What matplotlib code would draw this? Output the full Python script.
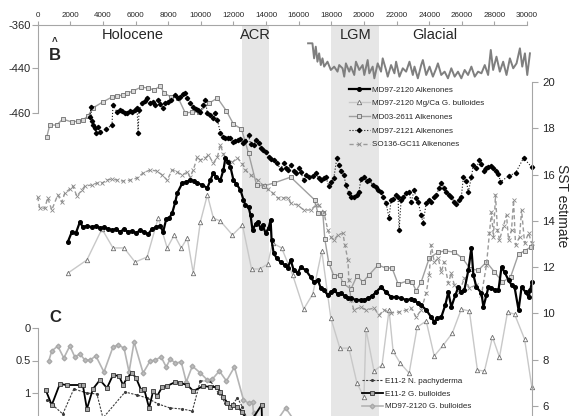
import matplotlib
matplotlib.use("Agg")
import matplotlib.pyplot as plt

plt.rcParams['font.family'] = ['Liberation Sans', 'DejaVu Sans']

# ---------------- data (age in years BP) ----------------
# EPICA-type deuterium record (top panel, left axis)
dd_age = [16575, 16841, 16944, 17046, 17149, 17251, 17354, 17456, 17559, 17764, 17969, 18174,
          18379, 18482, 18687, 18790, 18892, 19097, 19200, 19405, 19508, 19713, 19918, 20021,
          20226, 20328, 20533, 20636, 20841, 21046, 21149, 21354, 21456, 21662, 21867, 21969,
          22174, 22379, 22585, 22790, 22995, 23097, 23303, 23508, 23610, 23815, 24021, 24226,
          24431, 24533, 24738, 24944, 25149, 25354, 25559, 25764, 25969, 26174, 26379, 26585,
          26790, 26995, 27200, 27405, 27610, 27774, 27918, 28123, 28328, 28533, 28738, 28944,
          29149, 29354, 29559, 29703, 29867, 30010, 30174]
dd_val = [-380.8, -380.8, -397.9, -384.6, -401.7, -392.2, -405.5, -397.9, -407.3, -401.7, -411.1, -407.3,
          -413.0, -405.5, -409.2, -418.7, -403.6, -413.0, -407.3, -416.8, -401.7, -411.1, -405.5, -416.8,
          -399.8, -414.9, -407.3, -420.6, -403.6, -413.0, -397.9, -411.1, -418.7, -405.5, -414.9, -401.7,
          -418.7, -409.2, -413.0, -401.7, -416.8, -407.3, -420.6, -405.5, -399.8, -416.8, -407.3, -418.7,
          -409.2, -403.6, -416.8, -413.0, -420.6, -409.2, -418.7, -413.0, -420.6, -411.1, -416.8, -407.3,
          -418.7, -413.0, -414.9, -405.5, -416.8, -388.4, -411.1, -396.0, -413.0, -401.7, -416.8, -397.9,
          -409.2, -403.6, -386.5, -407.3, -392.2, -416.8, -392.2]

# MD97-2120 Alkenones
alk_age = [1846, 2092, 2339, 2585, 2769, 3015, 3323, 3569, 3815, 4062, 4308, 4554, 4800, 5046, 5292,
           5538, 5785, 6031, 6277, 6523, 6769, 7016, 7262, 7508, 7692, 7877, 8062, 8246, 8431, 8554,
           8862, 9108, 9354, 9600, 9785, 10092, 10400, 10585, 10769, 10954, 11200, 11385, 11508, 11692,
           11815, 12000, 12185, 12431, 12615, 12738, 12923, 13046, 13169, 13354, 13477, 13662, 13785,
           13969, 14154, 14277, 14338, 14462, 14646, 14892, 15138, 15323, 15508, 15692, 15938, 16123,
           16431, 16738, 16923, 17169, 17354, 17538, 17785, 17969, 18154, 18400, 18585, 18831, 19015,
           19200, 19508, 19815, 20000, 20246, 20492, 20738, 21046, 21354, 21662, 21969, 22277, 22585,
           22892, 23077, 23323, 23508, 23815, 24123, 24308, 24492, 24738, 24985, 25169, 25354, 25600,
           25785, 25969, 26154, 26400, 26585, 26708, 26892, 27200, 27323, 27508, 27631, 27815, 28062,
           28246, 28431, 28615, 28862, 29046, 29231, 29477, 29662, 29908, 30092, 30200, 30290]
alk_sst = [13.09, 13.52, 13.47, 13.95, 13.73, 13.78, 13.73, 13.78, 13.69, 13.73, 13.65, 13.60, 13.65, 13.52, 13.65,
           13.52, 13.56, 13.47, 13.60, 13.52, 13.43, 13.65, 13.73, 13.78, 13.52, 14.08, 14.12, 14.34, 14.81, 15.20,
           15.63, 15.68, 15.76, 15.72, 15.63, 15.55, 15.42, 15.76, 16.07, 15.89, 15.76, 16.20, 16.72, 16.54,
           16.33, 15.76, 15.59, 15.33, 14.90, 14.68, 14.60, 14.25, 13.60, 13.86, 13.95, 13.69, 13.82,
           13.47, 13.69, 14.04, 13.17, 12.61, 12.39, 12.22, 12.09, 11.96, 12.31, 11.87, 11.74, 12.00,
           11.87, 11.57, 11.36, 11.44, 11.10, 11.01, 10.79, 10.92, 11.01, 10.84, 10.88, 10.75, 10.66,
           10.66, 10.58, 10.58, 10.58, 10.66, 10.75, 10.92, 11.14, 10.92, 10.71, 10.71, 10.66, 10.58,
           10.62, 10.58, 10.45, 10.36, 10.15, 9.84, 9.63, 9.80, 9.84, 10.36, 10.92, 10.28, 10.79,
           11.14, 10.92, 11.01, 11.87, 12.83, 11.66, 11.14, 10.88, 10.28, 10.79, 11.14, 11.10, 11.01,
           11.01, 12.00, 11.79, 11.44, 11.23, 11.14, 10.15, 11.14, 10.92, 10.71, 11.01, 11.36]

# MD97-2120 Mg/Ca G. bulloides
mg_age = [1846, 3015, 3938, 4615, 5292, 5969, 6708, 7385, 7938, 8369, 8800, 9169, 9538, 9969, 10400,
          10769, 11200, 11938, 12554, 13108, 13600, 14092, 14400, 14954, 15631, 16308, 16862, 17415,
          17969, 18523, 19077, 19569, 20000, 20123, 20615, 21108, 21538, 21785, 22215, 22769, 23262,
          23815, 24308, 24862, 25415, 25969, 26462, 26954, 27385, 27877, 28308, 28800, 29231, 29846, 30290]
mg_sst = [11.74, 12.31, 13.65, 12.83, 12.83, 12.22, 12.44, 14.12, 12.83, 13.39, 12.83, 13.26, 11.74, 13.95, 15.12,
          14.12, 13.99, 13.39, 13.82, 11.92, 11.92, 12.13, 13.04, 12.83, 11.66, 10.19, 10.84, 12.70,
          9.80, 8.50, 8.50, 6.99, 6.39, 9.32, 7.51, 7.77, 10.15, 8.37, 7.86, 7.42, 9.41,
          9.67, 8.16, 8.63, 9.15, 10.19, 10.10, 7.55, 7.51, 8.98, 8.11, 10.06, 9.97, 8.89, 6.82]

# MD03-2611 Alkenones
md03_age = [554, 738, 1169, 1538, 2092, 2462, 2769, 3077, 3385, 4000, 4554, 4862, 5231, 5477, 5846,
            6338, 6769, 7138, 7508, 7754, 8185, 8615, 9046, 9477, 9908, 10523, 11015, 11569, 12000,
            12492, 12923, 13415, 13846, 14462, 15508, 16985, 17169, 17477, 17600, 17846, 18154, 18523,
            18708, 19200, 19569, 19938, 20308, 20862, 21354, 21723, 22092, 22646, 22954, 23200, 23508,
            24000, 24554, 24985, 25538, 26031, 26523, 27015, 27508, 28000, 28492, 28985, 29477, 29846, 30215]
md03_sst = [17.62, 18.14, 18.14, 18.40, 18.27, 18.31, 18.36, 18.53, 18.88, 19.14, 19.35, 19.39, 19.44, 19.52, 19.61,
            19.78, 19.74, 19.65, 19.83, 19.52, 19.35, 19.31, 18.66, 18.70, 18.70, 19.09, 19.31, 18.75, 18.18,
            17.97, 16.93, 15.55, 15.51, 15.63, 15.89, 14.90, 14.34, 14.34, 13.21, 12.18, 11.62, 11.66,
            11.31, 11.05, 11.62, 11.36, 11.66, 12.09, 11.96, 11.96, 11.27, 11.40, 11.36, 10.97, 11.36,
            12.39, 12.65, 12.70, 12.65, 12.39, 11.92, 11.87, 12.22, 11.79, 11.36, 11.57, 12.57, 12.70, 12.87]

# MD97-2121 Alkenones
md21_age = [3200, 3262, 3323, 3385, 3508, 3569, 3692, 3815, 4185, 4554, 4615, 4862, 5046, 5169, 5354,
            5477, 5662, 5785, 5969, 6092, 6154, 6215, 6400, 6585, 6708, 6892, 7077, 7200, 7385, 7508,
            7692, 7815, 8000, 8185, 8431, 8615, 8738, 8923, 9046, 9169, 9354, 9538, 9723, 9846, 9969,
            10154, 10277, 10400, 10585, 10769, 10892, 11015, 11200, 11385, 11508, 11692, 11815, 12000,
            12123, 12308, 12431, 12615, 12738, 12923, 13046, 13231, 13354, 13538, 13662, 13785, 13969,
            14154, 14277, 14462, 14646, 14892, 15077, 15200, 15323, 15508, 15692, 15815, 16000, 16123,
            16308, 16431, 16615, 16862, 17046, 17231, 17354, 17538, 17662, 17846, 17969, 18154, 18338,
            18462, 18585, 18769, 18892, 19077, 19200, 19385, 19569, 19692, 19815, 20000, 20185, 20308,
            20554, 20738, 20862, 21046, 21169, 21354, 21538, 21662, 21785, 21969, 22092, 22154, 22277,
            22400, 22585, 22769, 22892, 23077, 23200, 23323, 23508, 23631, 23815, 24000, 24123, 24308,
            24431, 24615, 24738, 24923, 25046, 25231, 25354, 25538, 25662, 25846, 25969, 26092, 26277,
            26400, 26585, 26708, 26892, 27077, 27200, 27385, 27508, 27631, 27815, 27938, 28123, 28246,
            28369, 28862, 29292, 29785, 30270]
md21_sst = [18.49, 18.92, 18.31, 18.14, 18.01, 17.80, 18.06, 17.84, 17.97, 18.14, 19.01, 18.70, 18.79, 18.75, 18.66,
            18.66, 18.75, 18.70, 18.79, 18.88, 17.80, 18.79, 19.09, 19.18, 19.31, 19.09, 19.14, 19.01, 19.22, 19.05,
            18.88, 19.09, 19.14, 19.22, 19.44, 19.31, 19.35, 19.48, 19.52, 19.31, 19.09, 18.92, 18.83, 18.79, 18.70,
            19.01, 19.22, 18.66, 18.57, 18.44, 18.66, 18.36, 17.80, 17.62, 17.58, 17.58, 17.58, 17.41,
            17.45, 17.49, 17.54, 17.36, 17.45, 17.71, 17.32, 17.28, 17.49, 17.36, 17.15, 17.06, 16.97,
            16.76, 16.67, 16.63, 16.50, 16.24, 16.50, 16.28, 16.20, 16.41, 16.15, 16.07, 16.28, 16.11,
            15.76, 15.98, 15.89, 15.94, 16.07, 15.85, 15.76, 15.85, 15.89, 15.51, 15.68, 15.85, 16.72,
            16.41, 16.15, 15.98, 15.55, 15.20, 15.03, 15.03, 15.12, 15.25, 15.81, 15.89, 15.72, 15.76,
            15.55, 15.46, 15.33, 15.25, 15.03, 14.77, 14.12, 14.90, 14.94, 15.12, 15.03, 13.60, 14.90,
            15.03, 15.20, 15.25, 14.81, 15.33, 14.99, 14.81, 14.25, 13.91, 14.77, 14.90, 14.81, 15.03,
            15.12, 15.42, 15.63, 15.42, 15.25, 15.12, 15.03, 14.81, 14.73, 14.90, 15.03, 15.89, 15.72,
            15.25, 15.89, 16.41, 16.28, 16.63, 16.46, 16.15, 16.28, 16.33, 16.37, 16.28, 16.15, 16.02,
            15.68, 15.94, 16.07, 16.72, 16.33]

# SO136-GC11 Alkenones
so_age = [0, 123, 431, 615, 862, 1231, 1477, 1662, 1969, 2154, 2400, 2708, 2892, 3323, 3631, 3938,
          4246, 4554, 4862, 5231, 5662, 6092, 6462, 6892, 7323, 7631, 7938, 8246, 8554, 8862, 9169,
          9354, 9538, 9785, 9969, 10277, 10462, 10769, 11015, 11200, 11385, 11631, 11938, 12246, 12554,
          12738, 13046, 13477, 13785, 14092, 14400, 14708, 15015, 15323, 15508, 15938, 16308, 16738,
          17046, 17231, 17538, 17785, 17969, 18154, 18400, 18708, 18831, 19015, 19077, 19200, 19385,
          19815, 20123, 20615, 20923, 21231, 21662, 22154, 22585, 22892, 23200, 23508, 23815, 24000,
          24123, 24308, 24554, 24738, 24923, 25169, 25354, 25538, 25846, 26154, 26462, 26892, 27200,
          27508, 27692, 27815, 27938, 28062, 28185, 28308, 28554, 28738, 28862, 29046, 29169, 29292,
          29538, 29662, 29846, 30092, 30277]
so_sst = [15.03, 14.55, 14.55, 14.99, 14.47, 15.12, 14.81, 15.20, 15.38, 15.51, 15.07, 15.33, 15.51, 15.55, 15.63, 15.63,
          15.76, 15.81, 15.76, 15.72, 15.76, 15.85, 16.07, 16.20, 16.15, 15.98, 15.76, 16.20, 16.11, 15.98, 16.11,
          15.89, 16.20, 16.76, 16.63, 16.72, 16.84, 16.50, 16.76, 17.28, 16.89, 16.59, 16.54, 16.72, 16.46,
          16.20, 15.98, 15.76, 15.55, 15.38, 15.20, 14.99, 14.99, 14.99, 14.77, 14.68, 14.47, 14.47,
          14.68, 14.68, 14.38, 13.60, 13.30, 13.17, 13.39, 13.47, 12.96, 12.31, 11.44, 10.58, 10.15,
          10.28, 10.15, 10.23, 9.93, 10.15, 10.02, 10.06, 10.15, 10.23, 9.84, 10.15, 10.88, 11.66,
          12.96, 12.22, 12.39, 11.79, 12.22, 11.31, 11.74, 11.23, 10.92, 11.53, 11.10, 11.23, 10.79,
          12.09, 13.47, 14.38, 13.30, 15.12, 13.60, 13.17, 13.78, 14.25, 13.17, 13.60, 14.90, 12.96,
          13.30, 14.47, 13.04, 13.47, 13.04]

# Panel C (inverted axis)
mdgb_age = [677, 862, 1231, 1600, 1969, 2277, 2585, 2892, 3200, 3569, 4062, 4615, 4923, 5292, 5600,
            5908, 6462, 6892, 7200, 7569, 7877, 8123, 8431, 8800, 9108, 9477, 9969, 10400, 10708,
            11138, 11569, 12062, 12615, 12923, 13169, 13231, 14277, 15200, 16123]
mdgb_val = [0.508, 0.354, 0.277, 0.462, 0.277, 0.446, 0.400, 0.492, 0.492, 0.431, 0.677, 0.292, 0.262, 0.308, 0.677,
            0.215, 0.692, 0.508, 0.492, 0.446, 0.600, 0.477, 0.538, 0.523, 0.831, 0.585, 0.692, 0.800, 0.785,
            0.662, 0.815, 0.600, 1.108, 1.154, 1.138, 1.31, 1.57, 1.23, 1.57]

e11gb_age = [492, 862, 1354, 1785, 2585, 2769, 3015, 3385, 3815, 4246, 4615, 4985, 5231, 5477, 5785,
             6031, 6338, 6523, 6831, 7077, 7323, 7631, 7938, 8431, 8738, 9169, 9538, 10154, 10585,
             11015, 11200, 11385, 11631, 11815, 12000, 12246, 12554, 12923, 13723, 13785]
e11gb_val = [0.954, 1.185, 0.862, 0.877, 0.877, 0.877, 1.246, 0.938, 0.800, 0.923, 0.723, 0.738, 0.877, 0.769, 0.692,
             0.769, 0.954, 0.938, 1.231, 0.969, 1.046, 0.908, 0.892, 0.831, 0.846, 0.877, 0.969, 0.892, 0.908,
             0.908, 0.985, 1.062, 1.154, 1.215, 1.185, 1.215, 1.292, 1.49, 1.185, 1.72]

e11np_age = [554, 923, 1538, 2215, 3015, 3631, 4000, 5354, 6092, 6708, 7385, 8123, 8862, 9477, 9969,
             10585, 11077, 11508, 11815, 12246, 12554, 12862]
e11np_val = [1.108, 1.185, 1.323, 0.938, 1.000, 1.015, 1.385, 0.985, 1.031, 1.077, 1.169, 1.231, 1.246, 1.277, 0.815,
             0.815, 1.000, 1.154, 1.215, 1.077, 1.215, 1.415]

top_ticks = list(range(0, 30001, 2000))
sst_ticks = [6, 8, 10, 12, 14, 16, 18, 20]
dd_tick_labels = ['-360', '-440', '-460']
c_ticks = [0, 0.5, 1]
c_tick_labels = ['0', '0.5', '1']
acr = (12500, 14200)
lgm = (18000, 20900)

# ---------------- layout (pixel geometry of the figure) ----------------
W, H = 569, 416
X0 = 37.7       # pixel column of age 0
YR_PX = 61.3    # years per pixel
SPINE = '#a6a6a6'
TXT = '#262626'

fig = plt.figure(figsize=(W / 100, H / 100), dpi=100)


def add_ax(right, top, bottom):
    ax = fig.add_axes([X0 / W, 1 - bottom / H, (right - X0) / W, (bottom - top) / H])
    ax.set_xlim(0, (right - X0) * YR_PX)
    ax.patch.set_alpha(0)
    for s in ax.spines.values():
        s.set_visible(False)
        s.set_color(SPINE)
    ax.set_xticks([])
    ax.set_yticks([])
    return ax


# shaded periods
ax_bg = add_ax(532, 25, 416)
ax_bg.axvspan(*acr, color='#e6e6e6', lw=0)
ax_bg.axvspan(*lgm, color='#e6e6e6', lw=0)

# deuterium axis (top)
ax_d = add_ax(X0 + 30000 / YR_PX, 25, 113)
ax_d.set_ylim(-460, -360)
ax_d.spines['top'].set_visible(True)
ax_d.spines['left'].set_visible(True)
ax_d.xaxis.tick_top()
ax_d.set_xticks(top_ticks)
ax_d.set_xticklabels([str(t) for t in top_ticks])
ax_d.set_yticks([-360, -409, -460])
ax_d.set_yticklabels(dd_tick_labels)
ax_d.tick_params(axis='x', length=3, width=0.8, color=SPINE, labelsize=5.8, labelcolor=TXT, pad=1.5)
ax_d.tick_params(axis='y', length=4, width=0.8, color=SPINE, labelsize=8, labelcolor=TXT, pad=1)
ax_d.plot(dd_age, dd_val, color='#7f7f7f', lw=1.4, clip_on=False)

# SST axis
ax_s = add_ax(532, 82, 416)
ax_s.set_ylim(6 - 10 / 23.14, 20)
ax_s.spines['right'].set_visible(True)
ax_s.yaxis.tick_right()
ax_s.set_yticks(sst_ticks)
ax_s.tick_params(axis='y', length=4, width=0.8, color=SPINE, labelsize=8.2, labelcolor=TXT, pad=3.5)

l_mg, = ax_s.plot(mg_age, mg_sst, color='#c8c8c8', lw=1, marker='^', ms=3.2, mfc='white',
                  mec='#6e6e6e', mew=0.6, clip_on=False)
l_03, = ax_s.plot(md03_age, md03_sst, color='#a0a0a0', lw=1, marker='s', ms=3.2, mfc='#d9d9d9',
                  mec='#6e6e6e', mew=0.6, clip_on=False)
l_so, = ax_s.plot(so_age, so_sst, color='#9a9a9a', lw=1, ls=(0, (3, 2)), marker='x', ms=2.2,
                  mec='#8a8a8a', mew=0.6, clip_on=False)
l_21, = ax_s.plot(md21_age, md21_sst, color='#1a1a1a', lw=0.8, ls=':', marker='D', ms=2.2,
                  mfc='black', mec='black', clip_on=False)
l_alk, = ax_s.plot(alk_age, alk_sst, color='black', lw=1.6, marker='o', ms=2.6, mfc='black',
                   mec='black', clip_on=False)

fig.legend([l_alk, l_mg, l_03, l_21, l_so],
           ['MD97-2120 Alkenones', 'MD97-2120 Mg/Ca G. bulloides', 'MD03-2611 Alkenones',
            'MD97-2121 Alkenones', 'SO136-GC11 Alkenones'],
           loc='upper left', bbox_to_anchor=(349 / W, 1 - 86 / H), frameon=False,
           fontsize=5.8, handlelength=2.6, handletextpad=0.3, labelspacing=0.75,
           borderpad=0, borderaxespad=0, labelcolor=TXT)

# panel C axis (inverted)
ax_c = add_ax(532, 328, 416)
ax_c.set_ylim(88 / 65, 0)
ax_c.spines['left'].set_visible(True)
ax_c.set_yticks(c_ticks)
ax_c.set_yticklabels(c_tick_labels)
ax_c.tick_params(axis='y', length=4, width=0.8, color=SPINE, labelsize=8, labelcolor=TXT, pad=1)

l_np, = ax_c.plot(e11np_age, e11np_val, color='#3c3c3c', lw=0.8, ls=(0, (2, 1.2)), marker='.', ms=2.5)
l_mdgb, = ax_c.plot(mdgb_age, mdgb_val, color='#b4b4b4', lw=1.2, marker='D', ms=2.4,
                    mfc='#bdbdbd', mec='#a8a8a8')
l_gb, = ax_c.plot(e11gb_age, e11gb_val, color='black', lw=1.3, marker='s', ms=3.2,
                  mfc='#a6a6a6', mec='#333333', mew=0.6)

fig.legend([l_np, l_gb, l_mdgb],
           ['E11-2 N. pachyderma', 'E11-2 G. bulloides', 'MD97-2120 G. bulloides'],
           loc='upper left', bbox_to_anchor=(362 / W, 1 - 377 / H), frameon=False,
           fontsize=5.8, handlelength=2.6, handletextpad=0.3, labelspacing=0.65,
           borderpad=0, borderaxespad=0, labelcolor=TXT)

# labels
for txt, xp in [('Holocene', 133), ('ACR', 255), ('LGM', 356), ('Glacial', 435)]:
    fig.text(xp / W, 1 - 35 / H, txt, ha='center', va='center', fontsize=10.5, color=TXT)
fig.text(55 / W, 1 - 56 / H, 'B', ha='center', va='center', fontsize=12, fontweight='bold', color=TXT)
fig.text(55 / W, 1 - 42 / H, '^', ha='center', va='center', fontsize=7, fontweight='bold', color=TXT)
fig.text(55 / W, 1 - 317 / H, 'C', ha='center', va='center', fontsize=12, fontweight='bold', color=TXT)
fig.text(561.5 / W, 1 - 206 / H, 'SST estimate', ha='center', va='center', rotation=270,
         fontsize=10, color=TXT)

fig.savefig('out.png', dpi=100)
